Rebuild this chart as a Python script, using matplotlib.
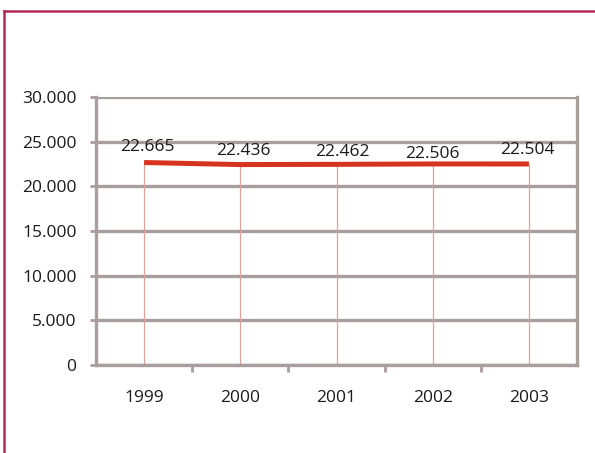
import matplotlib
matplotlib.use('agg')
import matplotlib.pyplot as plt
from matplotlib.lines import Line2D
from matplotlib.ticker import FuncFormatter, FixedLocator

years = ['1999', '2000', '2001', '2002', '2003']
values = [22665, 22436, 22462, 22506, 22504]
y_ticks = [0, 5000, 10000, 15000, 20000, 25000, 30000]


def dotted(v, pos=None):
    return f'{int(v):,}'.replace(',', '.')


def main():
    plt.rcParams['font.family'] = ['Open Sans', 'DejaVu Sans']
    fig = plt.figure(figsize=(5.95, 4.53), dpi=100)
    ax = fig.add_axes([96 / 595, 1 - 365 / 453, 481 / 595, 268 / 453])

    x = list(range(len(years)))
    grid_c = '#a89e9c'
    for t in y_ticks:
        ax.axhline(t, color=grid_c, lw=2.4, zorder=1)

    # drop lines from each point
    ax.vlines(x, 0, values, color='#dca39c', lw=0.9, zorder=2)
    ax.plot(x, values, color='#d8331c', lw=3.6, solid_capstyle='butt', zorder=3)

    offsets = [(2, 8), (2, 7), (4, 6), (0, 4.5), (-1, 7)]
    for xi, v, off in zip(x, values, offsets):
        ax.annotate(dotted(v), (xi, v), xytext=off, textcoords='offset points',
                    ha='center', va='baseline', fontsize=12.5, color='#1a1a1a')

    ax.set_xlim(-0.5, len(years) - 0.5)
    ax.set_ylim(0, 30000)
    ax.yaxis.set_major_locator(FixedLocator(y_ticks))
    ax.yaxis.set_major_formatter(FuncFormatter(dotted))
    ax.set_xticks(x)
    ax.set_xticklabels(years)
    ax.xaxis.set_minor_locator(FixedLocator([i + 0.5 for i in x[:-1]]))

    ax.tick_params(axis='y', length=4, width=2, color=grid_c, pad=10,
                   labelsize=12.5, labelcolor='#1a1a1a')
    ax.tick_params(axis='x', which='major', length=0, pad=18,
                   labelsize=12.5, labelcolor='#1a1a1a')
    ax.tick_params(axis='x', which='minor', length=5, width=2, color=grid_c)

    for side in ['left', 'right', 'bottom']:
        ax.spines[side].set_color(grid_c)
        ax.spines[side].set_linewidth(2.4)
    ax.spines['top'].set_visible(False)

    # crimson frame around the figure
    frame_c = '#b02a5a'
    fig.add_artist(Line2D([4 / 595, 1.0], [1 - 11 / 453, 1 - 11 / 453],
                          color=frame_c, lw=1.8, transform=fig.transFigure))
    fig.add_artist(Line2D([4 / 595, 4 / 595], [0, 1 - 11 / 453],
                          color=frame_c, lw=1.8, transform=fig.transFigure))

    plt.savefig('out.png', dpi=100)


if __name__ == '__main__':
    main()
